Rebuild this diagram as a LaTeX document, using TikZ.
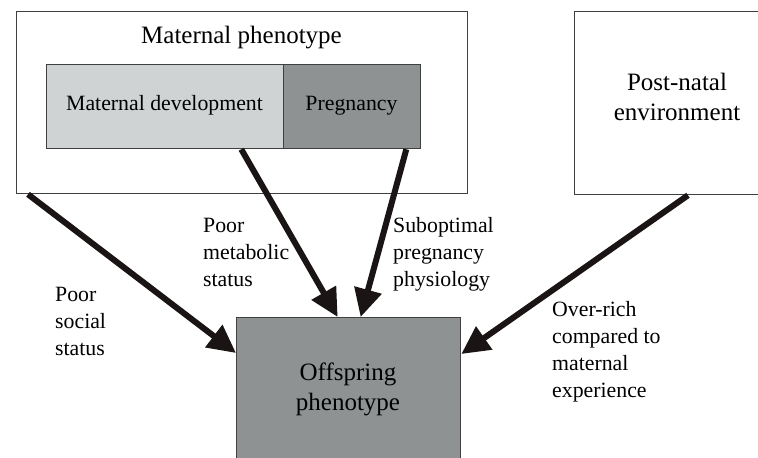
\documentclass[tikz,border=0pt]{standalone}
\usepackage{fontspec}
\setmainfont{Liberation Serif}
\usetikzlibrary{arrows.meta}
\definecolor{lightbox}{HTML}{CFD3D3}
\definecolor{darkbox}{HTML}{8E9292}
\definecolor{edgegray}{HTML}{404040}
\definecolor{arrowblack}{HTML}{1A1414}
\begin{document}
\begin{tikzpicture}[x=1pt,y=-1pt,
  box/.style={draw=edgegray, line width=1.3pt, inner sep=0pt, anchor=north west},
  big/.style={font=\fontsize{25}{30}\selectfont, align=center, inner sep=0pt, anchor=base},
  mid/.style={font=\fontsize{21.8}{26.8}\selectfont, inner sep=0pt, anchor=base},
  small/.style={font=\fontsize{21.8}{26.8}\selectfont, align=left, inner sep=0pt, anchor=base west},
  flow/.style={line width=6pt, draw=arrowblack, -{Triangle[length=28pt,width=27pt]}}
]
\useasboundingbox[fill=white] (0,0) rectangle (758,458);
% boxes
\node[box, minimum width=451pt, minimum height=182pt] (mp) at (16,11) {};
\node[box, fill=lightbox, minimum width=237pt, minimum height=84pt] (md) at (46,64) {};
\node[box, fill=darkbox, minimum width=137pt, minimum height=84pt] (preg) at (283,64) {};
\node[box, minimum width=210pt, minimum height=183pt] (pn) at (574,11) {};
\node[box, fill=darkbox, minimum width=224pt, minimum height=160pt] (off) at (236,317) {};
% box texts
\node[big] (mpt) at (241.5,43) {Maternal phenotype};
\node[mid] (mdt) at (164.5,110) {Maternal development};
\node[mid] (pregt) at (351.5,110) {Pregnancy};
\node[big] (pnt) at (677,120) {Post-natal\\environment};
\node[big] (offt) at (348,410) {Offspring\\phenotype};
% labels
\node[small] (l1) at (55,355) {Poor\\social\\status};
\node[small] (l2) at (203,286) {Poor\\metabolic\\status};
\node[small] (l3) at (393,286) {Suboptimal\\pregnancy\\physiology};
\node[small] (l4) at (552,397) {Over-rich\\compared to\\maternal\\experience};
% connectors
\draw[flow] ([xshift=12pt]mp.south west) -- ([yshift=-36pt]off.north west);
\draw[flow] ([xshift=-43pt]md.south east) -- ([xshift=-11pt]off.north);
\draw[flow] ([xshift=-15pt]preg.south east) -- ([xshift=12pt]off.north);
\draw[flow] ([xshift=114pt]pn.south west) -- ([yshift=-37pt]off.north east);
\end{tikzpicture}
\end{document}
